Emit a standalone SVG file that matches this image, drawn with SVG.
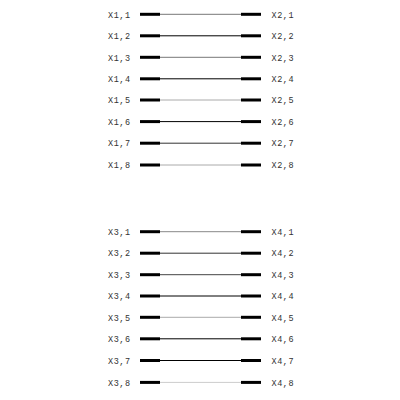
<svg xmlns="http://www.w3.org/2000/svg" width="400" height="400" viewBox="0 0 400 400">
<style>
.lbl{font-family:"Liberation Mono","DejaVu Sans Mono",monospace;font-size:8.5px;fill:#333}
.end{stroke:#000;stroke-width:3}
.w{stroke-width:1}
</style>
<rect width="400" height="400" fill="#fff"/>
<g id="connectors">
<line class="w" x1="160" y1="14.3" x2="241" y2="14.3" stroke="#777"/>
<line class="w" x1="160" y1="35.8" x2="241" y2="35.8" stroke="#000"/>
<line class="w" x1="160" y1="57.3" x2="241" y2="57.3" stroke="#777"/>
<line class="w" x1="160" y1="78.8" x2="241" y2="78.8" stroke="#000"/>
<line class="w" x1="160" y1="100" x2="241" y2="100" stroke="#aaa"/>
<line class="w" x1="160" y1="121.6" x2="241" y2="121.6" stroke="#000"/>
<line class="w" x1="160" y1="143.2" x2="241" y2="143.2" stroke="#333"/>
<line class="w" x1="160" y1="165" x2="241" y2="165" stroke="#aaa"/>
<line class="w" x1="160" y1="231.7" x2="241" y2="231.7" stroke="#888"/>
<line class="w" x1="160" y1="253.2" x2="241" y2="253.2" stroke="#333"/>
<line class="w" x1="160" y1="274.7" x2="241" y2="274.7" stroke="#444"/>
<line class="w" x1="160" y1="296" x2="241" y2="296" stroke="#000"/>
<line class="w" x1="160" y1="317.3" x2="241" y2="317.3" stroke="#aaa"/>
<line class="w" x1="160" y1="338.8" x2="241" y2="338.8" stroke="#000"/>
<line class="w" x1="160" y1="360.5" x2="241" y2="360.5" stroke="#000"/>
<line class="w" x1="160" y1="382.4" x2="241" y2="382.4" stroke="#ccc"/>
</g>
<g id="left-top">
<g id="X1_1"><line class="end" x1="140" y1="14.3" x2="160" y2="14.3"/><text class="lbl" x="108" y="17.5" textLength="22">X1,1</text></g>
<g id="X1_2"><line class="end" x1="140" y1="35.8" x2="160" y2="35.8"/><text class="lbl" x="108" y="39" textLength="22">X1,2</text></g>
<g id="X1_3"><line class="end" x1="140" y1="57.3" x2="160" y2="57.3"/><text class="lbl" x="108" y="60.5" textLength="22">X1,3</text></g>
<g id="X1_4"><line class="end" x1="140" y1="78.8" x2="160" y2="78.8"/><text class="lbl" x="108" y="82" textLength="22">X1,4</text></g>
<g id="X1_5"><line class="end" x1="140" y1="100" x2="160" y2="100"/><text class="lbl" x="108" y="103.2" textLength="22">X1,5</text></g>
<g id="X1_6"><line class="end" x1="140" y1="121.6" x2="160" y2="121.6"/><text class="lbl" x="108" y="124.8" textLength="22">X1,6</text></g>
<g id="X1_7"><line class="end" x1="140" y1="143.2" x2="160" y2="143.2"/><text class="lbl" x="108" y="146.4" textLength="22">X1,7</text></g>
<g id="X1_8"><line class="end" x1="140" y1="165" x2="160" y2="165"/><text class="lbl" x="108" y="168.2" textLength="22">X1,8</text></g>
</g>
<g id="right-top">
<g id="X2_1"><line class="end" x1="241" y1="14.3" x2="261" y2="14.3"/><text class="lbl" x="271.5" y="17.5" textLength="22">X2,1</text></g>
<g id="X2_2"><line class="end" x1="241" y1="35.8" x2="261" y2="35.8"/><text class="lbl" x="271.5" y="39" textLength="22">X2,2</text></g>
<g id="X2_3"><line class="end" x1="241" y1="57.3" x2="261" y2="57.3"/><text class="lbl" x="271.5" y="60.5" textLength="22">X2,3</text></g>
<g id="X2_4"><line class="end" x1="241" y1="78.8" x2="261" y2="78.8"/><text class="lbl" x="271.5" y="82" textLength="22">X2,4</text></g>
<g id="X2_5"><line class="end" x1="241" y1="100" x2="261" y2="100"/><text class="lbl" x="271.5" y="103.2" textLength="22">X2,5</text></g>
<g id="X2_6"><line class="end" x1="241" y1="121.6" x2="261" y2="121.6"/><text class="lbl" x="271.5" y="124.8" textLength="22">X2,6</text></g>
<g id="X2_7"><line class="end" x1="241" y1="143.2" x2="261" y2="143.2"/><text class="lbl" x="271.5" y="146.4" textLength="22">X2,7</text></g>
<g id="X2_8"><line class="end" x1="241" y1="165" x2="261" y2="165"/><text class="lbl" x="271.5" y="168.2" textLength="22">X2,8</text></g>
</g>
<g id="left-bottom">
<g id="X3_1"><line class="end" x1="140" y1="231.7" x2="160" y2="231.7"/><text class="lbl" x="108" y="234.9" textLength="22">X3,1</text></g>
<g id="X3_2"><line class="end" x1="140" y1="253.2" x2="160" y2="253.2"/><text class="lbl" x="108" y="256.4" textLength="22">X3,2</text></g>
<g id="X3_3"><line class="end" x1="140" y1="274.7" x2="160" y2="274.7"/><text class="lbl" x="108" y="277.9" textLength="22">X3,3</text></g>
<g id="X3_4"><line class="end" x1="140" y1="296" x2="160" y2="296"/><text class="lbl" x="108" y="299.2" textLength="22">X3,4</text></g>
<g id="X3_5"><line class="end" x1="140" y1="317.3" x2="160" y2="317.3"/><text class="lbl" x="108" y="320.5" textLength="22">X3,5</text></g>
<g id="X3_6"><line class="end" x1="140" y1="338.8" x2="160" y2="338.8"/><text class="lbl" x="108" y="342" textLength="22">X3,6</text></g>
<g id="X3_7"><line class="end" x1="140" y1="360.5" x2="160" y2="360.5"/><text class="lbl" x="108" y="363.7" textLength="22">X3,7</text></g>
<g id="X3_8"><line class="end" x1="140" y1="382.4" x2="160" y2="382.4"/><text class="lbl" x="108" y="385.6" textLength="22">X3,8</text></g>
</g>
<g id="right-bottom">
<g id="X4_1"><line class="end" x1="241" y1="231.7" x2="261" y2="231.7"/><text class="lbl" x="271.5" y="234.9" textLength="22">X4,1</text></g>
<g id="X4_2"><line class="end" x1="241" y1="253.2" x2="261" y2="253.2"/><text class="lbl" x="271.5" y="256.4" textLength="22">X4,2</text></g>
<g id="X4_3"><line class="end" x1="241" y1="274.7" x2="261" y2="274.7"/><text class="lbl" x="271.5" y="277.9" textLength="22">X4,3</text></g>
<g id="X4_4"><line class="end" x1="241" y1="296" x2="261" y2="296"/><text class="lbl" x="271.5" y="299.2" textLength="22">X4,4</text></g>
<g id="X4_5"><line class="end" x1="241" y1="317.3" x2="261" y2="317.3"/><text class="lbl" x="271.5" y="320.5" textLength="22">X4,5</text></g>
<g id="X4_6"><line class="end" x1="241" y1="338.8" x2="261" y2="338.8"/><text class="lbl" x="271.5" y="342" textLength="22">X4,6</text></g>
<g id="X4_7"><line class="end" x1="241" y1="360.5" x2="261" y2="360.5"/><text class="lbl" x="271.5" y="363.7" textLength="22">X4,7</text></g>
<g id="X4_8"><line class="end" x1="241" y1="382.4" x2="261" y2="382.4"/><text class="lbl" x="271.5" y="385.6" textLength="22">X4,8</text></g>
</g>
</svg>
